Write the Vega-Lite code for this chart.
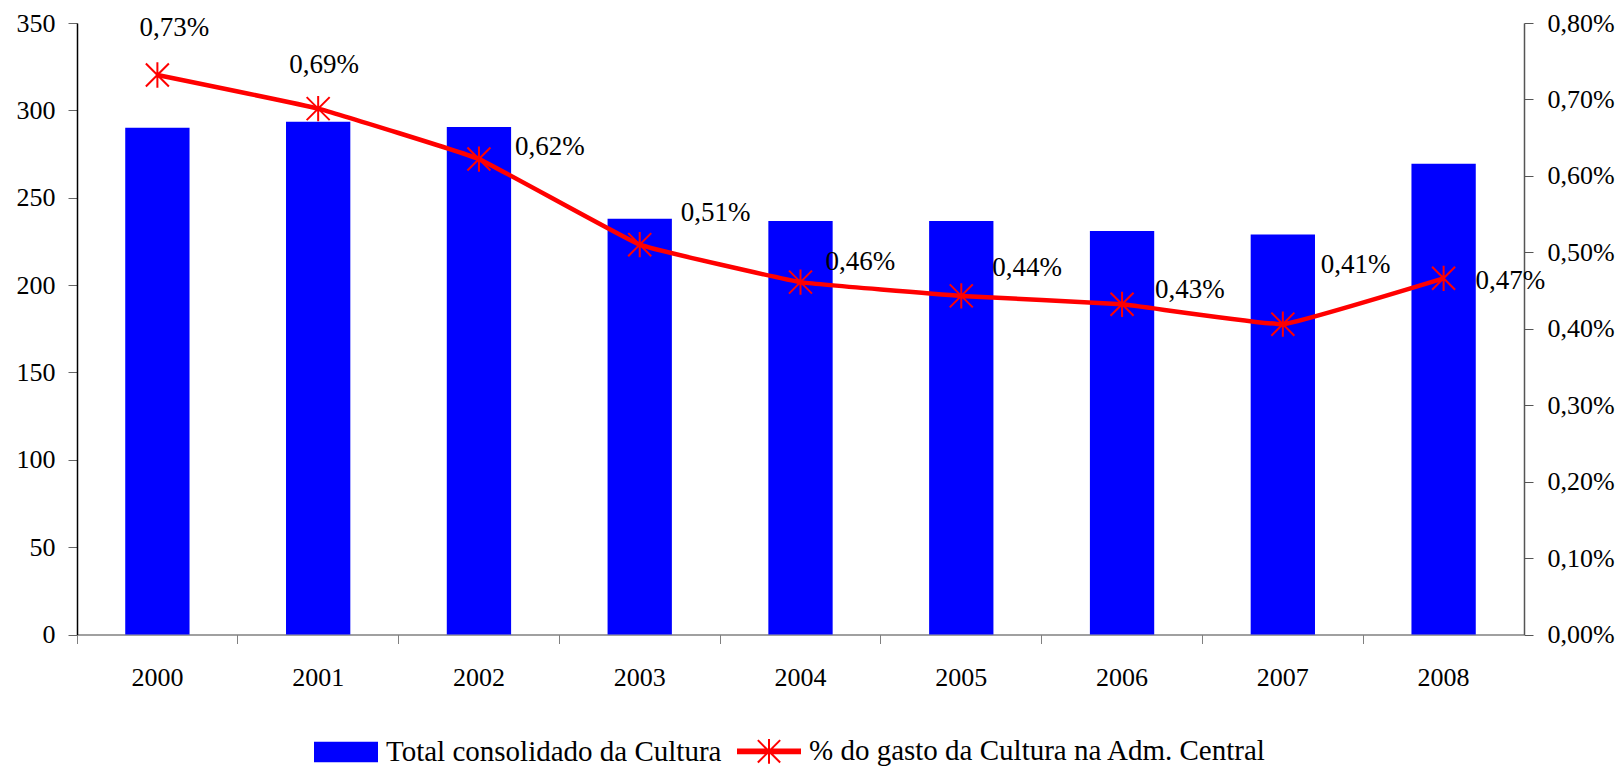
{
  "$schema": "https://vega.github.io/schema/vega-lite/v6.json",
  "width": 1447,
  "height": 611.5,
  "autosize": {"type": "none"},
  "padding": {"left": 77, "top": 23, "right": 97, "bottom": 131.5},
  "background": "white",
  "config": {
    "view": {"stroke": null},
    "locale": {"number": {"decimal": ",", "thousands": ".", "grouping": [3], "currency": ["", " €"]}},
    "axis": {"grid": false, "labelFont": "Liberation Serif", "labelFontSize": 26, "labelColor": "black", "title": null},
    "legend": {"labelFont": "Liberation Serif"},
    "text": {"font": "Liberation Serif"}
  },
  "data": {
    "values": [
      {"ano": "2000", "total": 290, "pct": 0.00732},
      {"ano": "2001", "total": 293.5, "pct": 0.00688},
      {"ano": "2002", "total": 290.5, "pct": 0.00622},
      {"ano": "2003", "total": 238, "pct": 0.0051},
      {"ano": "2004", "total": 236.7, "pct": 0.00461},
      {"ano": "2005", "total": 236.7, "pct": 0.00443},
      {"ano": "2006", "total": 231, "pct": 0.00432},
      {"ano": "2007", "total": 228.9, "pct": 0.00406},
      {"ano": "2008", "total": 269.5, "pct": 0.00466}
    ]
  },
  "encoding": {
    "x": {
      "field": "ano", "type": "ordinal",
      "scale": {"paddingInner": 0, "paddingOuter": 0},
      "axis": {"labelAngle": 0, "bandPosition": 0, "tickSize": 9, "labelPadding": 21, "domainColor": "#808080", "tickColor": "#808080", "domainWidth": 1.5}
    }
  },
  "layer": [
    {
      "mark": {"type": "bar", "width": {"band": 0.4}},
      "encoding": {
        "y": {
          "field": "total", "type": "quantitative",
          "scale": {"domain": [0, 350], "nice": false},
          "axis": {"orient": "left", "values": [0, 50, 100, 150, 200, 250, 300, 350], "tickSize": 9, "labelPadding": 13, "domainColor": "black", "tickColor": "#666", "domainWidth": 1.5}
        },
        "color": {
          "datum": "Total consolidado da Cultura",
          "scale": {"domain": ["Total consolidado da Cultura", "% do gasto da Cultura na Adm. Central"], "range": ["#0000FF", "#FF0000"]},
          "legend": {
            "title": null,
            "orient": "none",
            "direction": "horizontal",
            "legendX": 237,
            "legendY": 696,
            "labelFontSize": 29,
            "labelColor": "black",
            "labelLimit": 600,
            "labelOffset": 8,
            "columnPadding": 12,
            "symbolSize": 3844,
            "encode": {
              "symbols": {
                "update": {
                  "shape": {"signal": "datum.value == 'Total consolidado da Cultura' ? 'M-1,-0.3H1V0.3H-1Z' : 'M-1,-0.06H1V0.06H-1Z M-0.36,-0.36L0.36,0.36 M-0.36,0.36L0.36,-0.36 M0,-0.4V0.4'"},
                  "fill": {"signal": "datum.value == 'Total consolidado da Cultura' ? '#0000FF' : '#FF0000'"},
                  "stroke": {"signal": "datum.value == 'Total consolidado da Cultura' ? 'transparent' : '#FF0000'"},
                  "strokeWidth": {"value": 2},
                  "opacity": {"value": 1},
                  "fillOpacity": {"value": 1}
                }
              }
            }
          }
        }
      }
    },
    {
      "encoding": {
        "y": {
          "field": "pct", "type": "quantitative",
          "scale": {"domain": [0, 0.008], "nice": false},
          "axis": {"orient": "right", "format": ".2%", "values": [0, 0.001, 0.002, 0.003, 0.004, 0.005, 0.006, 0.007, 0.008], "tickSize": 9, "labelPadding": 14, "domainColor": "#555", "tickColor": "#555", "domainWidth": 1.5}
        }
      },
      "layer": [
        {
          "mark": {"type": "line", "interpolate": "cardinal", "tension": 0.75, "strokeWidth": 4.5},
          "encoding": {"color": {"datum": "% do gasto da Cultura na Adm. Central"}}
        },
        {
          "mark": {"type": "point", "shape": "M-1,-1L1,1M-1,1L1,-1M0,-1.1L0,1.1", "filled": false, "stroke": "#FF0000", "strokeWidth": 2, "size": 530, "opacity": 1}
        },
        {
          "transform": [{"filter": "datum.ano == '2000'"}],
          "mark": {"type": "text", "align": "center", "baseline": "middle", "dx": 17, "dy": -47, "fontSize": 27, "color": "black"},
          "encoding": {"text": {"field": "pct", "type": "quantitative", "format": ".2%"}}
        },
        {
          "transform": [{"filter": "datum.ano == '2001'"}],
          "mark": {"type": "text", "align": "center", "baseline": "middle", "dx": 6, "dy": -44, "fontSize": 27, "color": "black"},
          "encoding": {"text": {"field": "pct", "type": "quantitative", "format": ".2%"}}
        },
        {
          "transform": [{"filter": "datum.ano == '2002'"}],
          "mark": {"type": "text", "align": "left", "baseline": "middle", "dx": 36, "dy": -12, "fontSize": 27, "color": "black"},
          "encoding": {"text": {"field": "pct", "type": "quantitative", "format": ".2%"}}
        },
        {
          "transform": [{"filter": "datum.ano == '2003'"}],
          "mark": {"type": "text", "align": "left", "baseline": "middle", "dx": 41, "dy": -32, "fontSize": 27, "color": "black"},
          "encoding": {"text": {"field": "pct", "type": "quantitative", "format": ".2%"}}
        },
        {
          "transform": [{"filter": "datum.ano == '2004'"}],
          "mark": {"type": "text", "align": "left", "baseline": "middle", "dx": 25, "dy": -20, "fontSize": 27, "color": "black"},
          "encoding": {"text": {"field": "pct", "type": "quantitative", "format": ".2%"}}
        },
        {
          "transform": [{"filter": "datum.ano == '2005'"}],
          "mark": {"type": "text", "align": "left", "baseline": "middle", "dx": 31, "dy": -28, "fontSize": 27, "color": "black"},
          "encoding": {"text": {"field": "pct", "type": "quantitative", "format": ".2%"}}
        },
        {
          "transform": [{"filter": "datum.ano == '2006'"}],
          "mark": {"type": "text", "align": "left", "baseline": "middle", "dx": 33, "dy": -14, "fontSize": 27, "color": "black"},
          "encoding": {"text": {"field": "pct", "type": "quantitative", "format": ".2%"}}
        },
        {
          "transform": [{"filter": "datum.ano == '2007'"}],
          "mark": {"type": "text", "align": "left", "baseline": "middle", "dx": 38, "dy": -59, "fontSize": 27, "color": "black"},
          "encoding": {"text": {"field": "pct", "type": "quantitative", "format": ".2%"}}
        },
        {
          "transform": [{"filter": "datum.ano == '2008'"}],
          "mark": {"type": "text", "align": "left", "baseline": "middle", "dx": 32, "dy": 3, "fontSize": 27, "color": "black"},
          "encoding": {"text": {"field": "pct", "type": "quantitative", "format": ".2%"}}
        }
      ]
    }
  ],
  "resolve": {"scale": {"y": "independent"}}
}
